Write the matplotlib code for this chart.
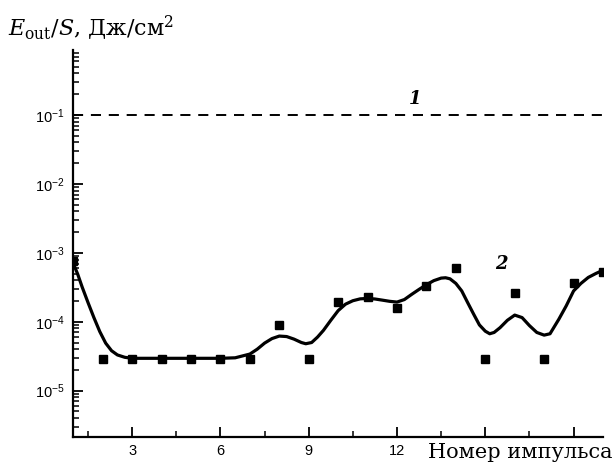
import matplotlib
matplotlib.use("Agg")
import matplotlib.pyplot as plt
from matplotlib.ticker import FixedLocator, FixedFormatter, LogLocator, NullFormatter

# ---- data ----
pulse_numbers = [1, 2, 3, 4, 5, 6, 7, 8, 9, 10, 11, 12, 13, 14, 15, 16, 17, 18, 19]
energy_points = [7.5e-4, 2.9e-5, 2.9e-5, 2.9e-5, 2.9e-5, 2.9e-5, 2.9e-5, 9.0e-5, 2.9e-5,
                 1.96e-4, 2.27e-4, 1.57e-4, 3.34e-4, 6.1e-4, 2.9e-5, 2.59e-4, 2.9e-5,
                 3.62e-4, 5.33e-4]

curve_x = [1.0, 1.15, 1.3, 1.5, 1.7, 1.9, 2.1, 2.3, 2.5, 2.75, 3.0, 4.0, 5.0, 6.0, 6.5,
           7.0, 7.25, 7.5, 7.75, 8.0, 8.25, 8.5, 8.75, 8.9, 9.1, 9.3, 9.5, 9.75, 10.0,
           10.25, 10.5, 10.75, 11.0, 11.25, 11.5, 11.75, 12.0, 12.25, 12.5, 12.75, 13.0,
           13.25, 13.5, 13.65, 13.8, 14.0, 14.2, 14.4, 14.6, 14.8, 15.0, 15.15, 15.3,
           15.5, 15.75, 16.0, 16.25, 16.5, 16.75, 17.0, 17.2, 17.5, 17.75, 18.0, 18.25,
           18.5, 18.75, 19.0]
curve_y = [7.0e-4, 4.9e-4, 3.2e-4, 1.9e-4, 1.15e-4, 7.2e-5, 4.9e-5, 3.8e-5, 3.3e-5,
           3.05e-5, 2.95e-5, 2.95e-5, 2.95e-5, 2.95e-5, 3.0e-5,
           3.4e-5, 4.0e-5, 4.9e-5, 5.7e-5, 6.2e-5, 6.1e-5, 5.6e-5, 5.0e-5, 4.8e-5, 5.0e-5,
           6.0e-5, 7.5e-5, 1.05e-4, 1.45e-4,
           1.8e-4, 2.02e-4, 2.15e-4, 2.18e-4, 2.14e-4, 2.06e-4, 1.98e-4, 1.93e-4, 2.1e-4,
           2.5e-4, 2.95e-4, 3.45e-4,
           3.95e-4, 4.3e-4, 4.35e-4, 4.2e-4, 3.6e-4, 2.8e-4, 1.9e-4, 1.3e-4, 9.0e-5, 7.3e-5,
           6.7e-5, 7.0e-5,
           8.2e-5, 1.05e-4, 1.25e-4, 1.15e-4, 8.8e-5, 7.0e-5, 6.4e-5, 6.7e-5, 1.09e-4,
           1.7e-4, 2.8e-4, 3.6e-4,
           4.4e-4, 5.0e-4, 5.6e-4]

level_line_x = [1, 19]
level_line_y = [0.1, 0.1]

x_ticks = [3, 6, 9, 12, 15, 18]
x_tick_labels = ["3", "6", "9", "12", "", ""]
x_minor_ticks = [1.5, 4.5, 7.5, 10.5, 13.5, 16.5]

# ---- styling ----
plt.rcParams['font.family'] = ['Liberation Sans', 'DejaVu Sans']
plt.rcParams['mathtext.fontset'] = 'custom'
plt.rcParams['mathtext.rm'] = 'DejaVu Serif'
plt.rcParams['mathtext.it'] = 'DejaVu Serif:italic'

fig = plt.figure(figsize=(6.16, 4.63), dpi=100)
ax = fig.add_axes([73.3 / 616, (463 - 436.7) / 463, (603 - 73.3) / 616, (436.7 - 50) / 463])

ax.plot(level_line_x, level_line_y, color='black', lw=1.4, dashes=(5.2, 4.0),
        solid_capstyle='butt', dash_capstyle='butt')
ax.plot(curve_x, curve_y, color='black', lw=2.3, solid_joinstyle='round')
ax.plot(pulse_numbers, energy_points, linestyle='none', marker='s', markersize=5.4,
        color='black')

ax.set_yscale('log')
ax.set_xlim(1, 19)
ax.set_ylim(2.15e-6, 0.877)

for side in ('top', 'right'):
    ax.spines[side].set_visible(False)
for side in ('left', 'bottom'):
    ax.spines[side].set_linewidth(1.6)

ax.xaxis.set_major_locator(FixedLocator(x_ticks))
ax.xaxis.set_major_formatter(FixedFormatter(x_tick_labels))
ax.xaxis.set_minor_locator(FixedLocator(x_minor_ticks))
ax.yaxis.set_major_locator(LogLocator(base=10, numticks=20))
ax.yaxis.set_minor_locator(LogLocator(base=10, subs=range(2, 10), numticks=20))
ax.yaxis.set_minor_formatter(NullFormatter())

ax.tick_params(axis='both', which='major', direction='in', length=7, width=1.3,
               labelsize=10.5, pad=5)
ax.tick_params(axis='y', which='major', pad=6)
ax.tick_params(axis='both', which='minor', direction='in', length=4, width=1.1)

fig.text(8 / 616, 1 - 28 / 463, r"$E_{\rm out}/S$, Дж/см$^2$", family='DejaVu Serif',
         fontsize=16, ha='left', va='center')
fig.text(612 / 616, 1 - 452 / 463, "Номер импульса", family='DejaVu Serif',
         fontsize=15, ha='right', va='center')

ax.text(12.6, 0.125, "1", family='DejaVu Serif', style='italic', fontweight='bold',
        fontsize=13, ha='center', va='bottom')
ax.text(15.55, 7.0e-4, "2", family='DejaVu Serif', style='italic', fontweight='bold',
        fontsize=13, ha='center', va='center')

fig.savefig("out.png", dpi=100)
